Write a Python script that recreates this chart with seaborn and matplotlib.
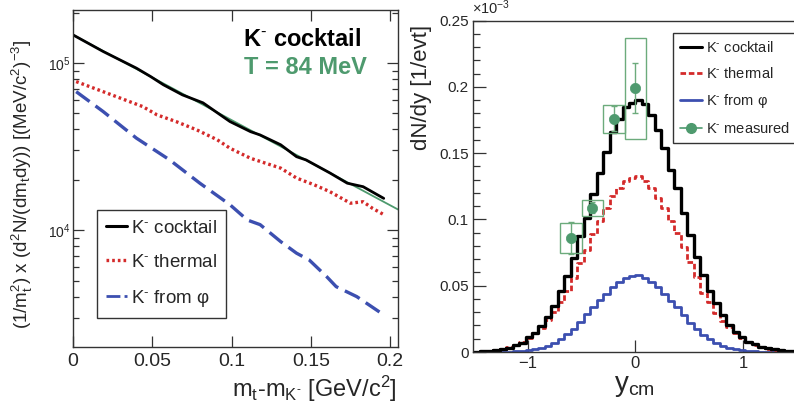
import numpy as np
import pandas as pd
import matplotlib
matplotlib.use("Agg")
import matplotlib.pyplot as plt
from matplotlib.lines import Line2D
from matplotlib.patches import Rectangle
from matplotlib.ticker import MultipleLocator, FuncFormatter, NullFormatter, LogLocator
import seaborn as sns

# ---- left panel: transverse-mass spectra (1/mt^2 d2N/dmt dy) ----
mt_cocktail = [0.000, 0.019, 0.040, 0.049, 0.057, 0.069, 0.082, 0.099, 0.112, 0.118,
               0.131, 0.141, 0.147, 0.162, 0.173, 0.183, 0.196]
val_cocktail = [1.47e5, 1.17e5, 9.3e4, 8.28e4, 7.4e4, 6.44e4, 5.77e4, 4.46e4, 3.88e4, 3.71e4,
                3.24e4, 2.75e4, 2.63e4, 2.20e4, 1.91e4, 1.82e4, 1.55e4]
mt_thermal = [0.002, 0.019, 0.044, 0.053, 0.065, 0.078, 0.091, 0.099, 0.112, 0.131,
              0.141, 0.152, 0.162, 0.175, 0.183, 0.189, 0.196]
val_thermal = [7.73e4, 6.73e4, 5.48e4, 4.89e4, 4.46e4, 3.98e4, 3.47e4, 3.09e4, 2.69e4, 2.35e4,
               2.05e4, 1.87e4, 1.70e4, 1.45e4, 1.48e4, 1.35e4, 1.24e4]
mt_phi = [0.002, 0.019, 0.040, 0.061, 0.080, 0.099, 0.110, 0.118, 0.131, 0.141,
          0.149, 0.160, 0.166, 0.179, 0.196]
val_phi = [6.73e4, 5.12e4, 3.55e4, 2.63e4, 1.91e4, 1.42e4, 1.15e4, 1.08e4, 8.55e3, 7.29e3,
           6.64e3, 5.28e3, 4.60e3, 4.01e3, 3.12e3]
# exponential fit, T = 84 MeV (straight on log axis)
mt_fit = [0.0, 0.205]
val_fit = [1.47e5, 1.33e4]

# ---- right panel: rapidity distributions, 50 bins of 0.06 in [-1.5, 1.5] (units 1e-3) ----
y_lo, y_hi, y_bw = -1.5, 1.5, 0.06
dndy_cocktail = [0.0003, 0.0005, 0.0008, 0.0012, 0.002, 0.0033, 0.005, 0.007, 0.011, 0.0145,
                 0.0195, 0.0265, 0.035, 0.046, 0.057, 0.071, 0.0875, 0.101, 0.119, 0.135,
                 0.151, 0.166, 0.176, 0.185, 0.188, 0.1905, 0.187, 0.179, 0.1675, 0.1537,
                 0.1373, 0.1235, 0.105, 0.0883, 0.0719, 0.0581, 0.0463, 0.0367, 0.0279, 0.0204,
                 0.0153, 0.0111, 0.0078, 0.006, 0.004, 0.0028, 0.002, 0.0015, 0.001, 0.0007]
dndy_thermal = [0.0003, 0.0005, 0.0009, 0.0015, 0.0023, 0.0035, 0.0052, 0.0075, 0.0105, 0.014,
                0.018, 0.024, 0.030, 0.038, 0.046, 0.056, 0.067, 0.077, 0.089, 0.099,
                0.109, 0.118, 0.124, 0.129, 0.131, 0.1325, 0.129, 0.124, 0.1165, 0.109,
                0.099, 0.0895, 0.079, 0.068, 0.0565, 0.0445, 0.0378, 0.0295, 0.0235, 0.019,
                0.0141, 0.0103, 0.0073, 0.005, 0.0034, 0.0023, 0.0015, 0.001, 0.0006, 0.0004]
dndy_phi = [0.0, 0.0, 0.0001, 0.0001, 0.0002, 0.0003, 0.0005, 0.0008, 0.0012, 0.002,
            0.0033, 0.0048, 0.007, 0.010, 0.0135, 0.0175, 0.0225, 0.0285, 0.034, 0.039,
            0.044, 0.049, 0.0528, 0.056, 0.0575, 0.0578, 0.056, 0.0528, 0.049, 0.044,
            0.0385, 0.034, 0.028, 0.022, 0.017, 0.013, 0.0098, 0.007, 0.0048, 0.0033,
            0.002, 0.0012, 0.0008, 0.0005, 0.0003, 0.0002, 0.0001, 0.0001, 0.0, 0.0]
# measured points
y_meas = [-0.6, -0.4, -0.2, 0.0]
dndy_meas = [0.086, 0.109, 0.176, 0.199]
stat_meas = [0.012, 0.004, 0.0095, 0.019]
sys_meas = [0.011, 0.006, 0.0105, 0.038]
box_halfwidth = 0.1

BLACK = "#000000"
RED = "#d42a2a"
BLUE = "#3c4fb0"
GREEN = "#4e9a6e"
GREEN_BOX = "#6cab7c"

sns.set_style("ticks")
plt.rcParams["font.family"] = ["Liberation Sans", "DejaVu Sans"]
plt.rcParams["mathtext.fontset"] = "custom"
plt.rcParams["mathtext.rm"] = "Liberation Sans"
plt.rcParams["mathtext.it"] = "Liberation Sans:italic"
plt.rcParams["mathtext.bf"] = "Liberation Sans:bold"

KM = "K$^{\\text{-}}$"  # K- with a short superscript dash

fig = plt.figure(figsize=[7.94, 4.09], dpi=100)
W, H = 794, 409
ax1 = fig.add_axes([73 / W, 1 - 347 / H, 325 / W, 337 / H])
ax2 = fig.add_axes([473 / W, 1 - 352 / H, 321 / W, 331.3 / H])

# ----- left panel -----
sns.lineplot(x=mt_fit, y=val_fit, ax=ax1, color=GREEN, lw=1.3, estimator=None)
sns.lineplot(x=mt_cocktail, y=val_cocktail, ax=ax1, color=BLACK, lw=2.0, estimator=None)
sns.lineplot(x=mt_thermal, y=val_thermal, ax=ax1, color=RED, lw=2.4, estimator=None,
             linestyle=(0, (0.8, 0.9)))
sns.lineplot(x=mt_phi, y=val_phi, ax=ax1, color=BLUE, lw=2.4, estimator=None,
             linestyle=(0, (5, 2.2)))
ax1.set_yscale("log")
ax1.set_xlim(0, 0.205)
ax1.set_ylim(2005, 2.07e5)
ax1.set_xlabel("")
ax1.set_ylabel("")
ax1.xaxis.set_major_locator(MultipleLocator(0.05))
ax1.xaxis.set_major_formatter(FuncFormatter(lambda v, p: "%g" % round(v, 3)))
ax1.yaxis.set_major_locator(LogLocator(base=10))
ax1.yaxis.set_minor_locator(LogLocator(base=10, subs=np.arange(2, 10)))
ax1.yaxis.set_minor_formatter(NullFormatter())
ax1.tick_params(which="both", direction="in", top=True, right=True, width=0.9, color="#333333")
ax1.tick_params(which="major", length=8)
ax1.tick_params(which="minor", length=4)
ax1.tick_params(axis="x", labelsize=14, pad=4)
ax1.tick_params(axis="y", labelsize=10, pad=2)
for s in ax1.spines.values():
    s.set_color("#333333")
    s.set_linewidth(1.0)

h1 = [Line2D([], [], color=BLACK, lw=2.2),
      Line2D([], [], color=RED, lw=2.4, linestyle=(0, (0.8, 0.9))),
      Line2D([], [], color=BLUE, lw=2.0, linestyle=(0, (5, 1.5)))]
leg1 = ax1.legend(h1, [KM + " cocktail", KM + " thermal", KM + " from φ"],
                  loc="lower left", bbox_to_anchor=(0.074, 0.086), borderaxespad=0,
                  fontsize=13.5, handlelength=1.1, handletextpad=0.2, labelspacing=0.9,
                  borderpad=0.5, fancybox=False, edgecolor="#333333", framealpha=1)
leg1.get_frame().set_linewidth(1.0)

fig.text(302 / W, 1 - 40 / H, KM + " cocktail", ha="center", va="center",
         fontsize=17, fontweight="bold", color=BLACK)
fig.text(305 / W, 1 - 68 / H, "T = 84 MeV", ha="center", va="center",
         fontsize=17, fontweight="bold", color=GREEN)
fig.text(22 / W, 1 - 184 / H,
         "(1/m$_{\\mathrm{t}}^{2}$) x (d$^{2}$N/(dm$_{\\mathrm{t}}$dy)) [(MeV/c$^{2}$)$^{-3}$]",
         rotation=90, ha="center", va="center", fontsize=13.5)
fig.text(397 / W, 1 - 389 / H, "m$_{\\mathrm{t}}$-m$_{\\mathrm{K}^{\\text{-}}}$ [GeV/c$^{2}$]",
         ha="right", va="center", fontsize=17)

# ----- right panel -----
n_bins = len(dndy_cocktail)
centers = y_lo + y_bw * (np.arange(n_bins) + 0.5)
hist_df = pd.DataFrame({"y": centers, "cocktail": dndy_cocktail,
                        "thermal": dndy_thermal, "phi": dndy_phi})
hist_kw = dict(x="y", binwidth=y_bw, binrange=(y_lo, y_hi), element="step", fill=False, ax=ax2)
sns.histplot(data=hist_df, weights="phi", color=BLUE, lw=2.0, **hist_kw)
sns.histplot(data=hist_df, weights="thermal", color=RED, lw=2.0, linestyle=(0, (2, 1)), **hist_kw)
sns.histplot(data=hist_df, weights="cocktail", color=BLACK, lw=2.4, **hist_kw)

for yc, v, sy in zip(y_meas, dndy_meas, sys_meas):
    ax2.add_patch(Rectangle((yc - box_halfwidth, v - sy), 2 * box_halfwidth, 2 * sy,
                            fill=False, edgecolor=GREEN_BOX, lw=1.0, zorder=4))
ax2.errorbar(y_meas, dndy_meas, yerr=stat_meas, fmt="none", ecolor=GREEN_BOX, elinewidth=1.0,
             capsize=2.5, capthick=1.0, zorder=5)
sns.scatterplot(x=y_meas, y=dndy_meas, ax=ax2, color=GREEN, s=55, edgecolor=GREEN,
                linewidth=0.5, zorder=6)

ax2.set_xlim(-1.507, 1.47)
ax2.set_ylim(0, 0.25)
ax2.set_xlabel("")
ax2.set_ylabel("")
ax2.xaxis.set_major_locator(MultipleLocator(1))
ax2.xaxis.set_major_formatter(FuncFormatter(lambda v, p: "\u22121" if v < -0.5 else "%g" % v))
ax2.yaxis.set_major_locator(MultipleLocator(0.05))
ax2.yaxis.set_minor_locator(MultipleLocator(0.01))
ax2.yaxis.set_major_formatter(FuncFormatter(lambda v, p: "%g" % round(v, 3)))
ax2.tick_params(which="both", direction="in", width=0.9, color="#333333")
ax2.tick_params(which="major", length=9)
ax2.tick_params(which="minor", length=5)
ax2.tick_params(axis="y", labelsize=11, pad=3)
ax2.tick_params(axis="x", labelsize=12, pad=3)
ax2.spines["right"].set_visible(False)
for s in ["left", "bottom", "top"]:
    ax2.spines[s].set_color("#333333")
    ax2.spines[s].set_linewidth(1.0)

h2 = [Line2D([], [], color=BLACK, lw=2.2),
      Line2D([], [], color=RED, lw=2.0, linestyle=(0, (2, 1))),
      Line2D([], [], color=BLUE, lw=2.0),
      Line2D([], [], color=GREEN, lw=1.2, marker="o", markersize=7)]
leg2 = ax2.legend(h2, [KM + " cocktail", KM + " thermal", KM + " from φ", KM + " measured"],
                  loc="upper left", bbox_to_anchor=(0.623, 0.963), borderaxespad=0,
                  fontsize=10.5, handlelength=1.5, handletextpad=0.25, labelspacing=0.75,
                  borderpad=0.5, fancybox=False, edgecolor="#333333", framealpha=1)
leg2.get_frame().set_linewidth(1.0)

fig.text(472 / W, 1 - 8 / H, "\u00d710$^{-3}$", ha="left", va="center", fontsize=10.5)
fig.text(422 / W, 1 - 87 / H, "dN/dy [1/evt]", rotation=90, ha="center", va="center",
         fontsize=16)
fig.text(634 / W, 1 - 386 / H, "y$_{\\mathrm{cm}}$", ha="center", va="center", fontsize=20)

fig.savefig("out.png", dpi=100)
